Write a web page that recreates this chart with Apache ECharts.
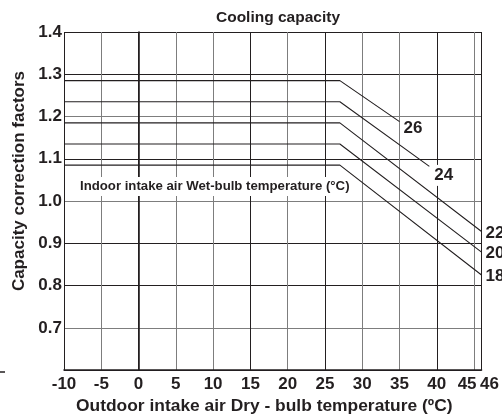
<!DOCTYPE html>
<html>
<head>
<meta charset="utf-8">
<script src="https://cdn.jsdelivr.net/npm/echarts@6/dist/echarts.min.js"></script>
<style>html,body{margin:0;padding:0;background:#fff}#c{width:502px;height:420px}</style>
</head>
<body>
<div id="c"></div>
<script>
// Wet-bulb temperature curves (°C)
const wetBulb = ['26', '24', '22', '20', '18'];
const flatValue = [1.285, 1.235, 1.185, 1.135, 1.085];
const startX = -10;
const breakX = 27;
const endX = [35, 39, 46, 46, 46];
const endValue = [1.188, 1.082, 0.928, 0.879, 0.825];
const labelOffsets = [[-2, 7], [-1, 9], [0, 2], [0, 1], [0, 1]];

const xTicks = [-10, -5, 0, 5, 10, 15, 20, 25, 30, 35, 40, 45, 46];
const yTicks = [0.7, 0.8, 0.9, 1.0, 1.1, 1.2, 1.3, 1.4];

const FONT = '"Liberation Sans", Arial, Helvetica, sans-serif';
const INK = '#231f20';
const D = '#231f20', G = '#7d7d7d';

const series = wetBulb.map((name, i) => ({
  name: name,
  type: 'line',
  symbol: 'none',
  silent: true,
  lineStyle: { color: INK, width: 1.1 },
  data: [[startX, flatValue[i]], [breakX, flatValue[i]], [endX[i], endValue[i]]],
  endLabel: {
    show: true,
    formatter: name,
    color: INK,
    fontFamily: FONT,
    fontWeight: 'bold',
    fontSize: 17,
    distance: 4,
    offset: labelOffsets[i],
    backgroundColor: i < 2 ? '#fff' : 'transparent',
    padding: i < 2 ? [2, 10, 2, 2] : 0
  }
}));

const chart = echarts.init(document.getElementById('c'), null, { renderer: 'canvas' });
chart.setOption({
  animation: false,
  backgroundColor: '#fff',
  title: [
    {
      text: 'Cooling capacity',
      left: 273, textAlign: 'center', top: 5,
      textStyle: { fontFamily: FONT, fontWeight: 'bold', fontSize: 15.5, color: INK }
    },
    {
      text: 'Indoor intake air Wet-bulb temperature (°C)',
      left: 78, top: 177, padding: [3, 2, 3, 2],
      backgroundColor: '#fff',
      textStyle: { fontFamily: FONT, fontWeight: 'bold', fontSize: 13.2, color: INK }
    }
  ],
  grid: { left: 64, top: 32, right: 19.3, bottom: 48.3, containLabel: false },
  xAxis: {
    type: 'value',
    min: -10, max: 46, interval: 5,
    name: 'Outdoor intake air Dry - bulb temperature (ºC)',
    nameLocation: 'middle', nameGap: 21,
    nameTextStyle: { fontFamily: FONT, fontWeight: 'bold', fontSize: 17.4, color: INK, padding: [0, 17, 0, 0] },
    axisLine: { lineStyle: { color: INK, width: 1.6 } },
    axisTick: { show: false },
    axisLabel: {
      margin: 6,
      fontFamily: FONT, fontWeight: 'bold', fontSize: 17, color: INK,
      formatter: v => v === 45 ? '{l|45}' : (v === 46 ? '{r|46}' : String(v)),
      rich: {
        l: { fontFamily: FONT, fontWeight: 'bold', fontSize: 17, color: INK, padding: [0, 14, 0, 0] },
        r: { fontFamily: FONT, fontWeight: 'bold', fontSize: 17, color: INK, padding: [0, 0, 0, 16] }
      }
    },
    splitLine: { show: true, lineStyle: { width: 1, color: [D, G, D, G, G, D, G, D, G, G, D, G, D] } }
  },
  yAxis: {
    type: 'value',
    min: 0.6, max: 1.4, interval: 0.1,
    name: 'Capacity correction factors',
    nameLocation: 'middle', nameGap: 36,
    nameTextStyle: { fontFamily: FONT, fontWeight: 'bold', fontSize: 17, color: INK, padding: [0, 0, 0, 40] },
    axisLine: { show: true, lineStyle: { color: INK, width: 1.6 } },
    axisTick: { show: false },
    axisLabel: {
      margin: 2,
      fontFamily: FONT, fontWeight: 'bold', fontSize: 17, color: INK,
      formatter: v => (v < 0.65 ? '' : v.toFixed(1))
    },
    splitLine: { show: true, lineStyle: { width: 1, color: [D, G, D, D, G, D, G, D, D] } }
  },
  graphic: [
    { type: 'line', shape: { x1: 0, y1: 372, x2: 5, y2: 372 }, style: { stroke: INK, lineWidth: 1.5 } }
  ],
  series: series
});
</script>
</body>
</html>
